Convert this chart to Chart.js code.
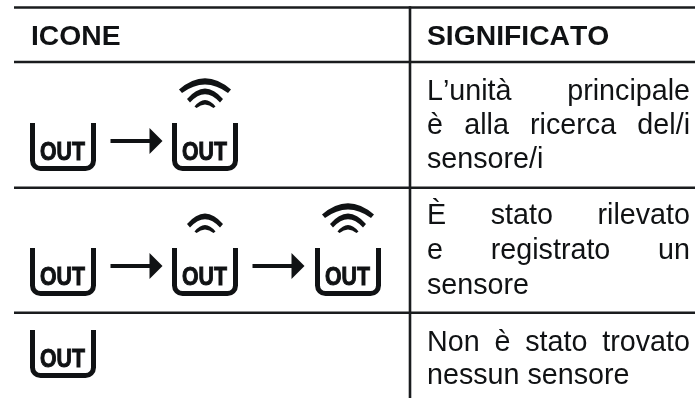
<!DOCTYPE html>
<html>
<head>
<meta charset="utf-8">
<style>
  html, body { margin: 0; padding: 0; background: #fff; overflow: hidden; }
  canvas { display: block; }
</style>
<script src="https://cdn.jsdelivr.net/npm/chart.js@4/dist/chart.umd.js"></script>
</head>
<body>
<canvas id="table" width="695" height="398"></canvas>
<script>
// table content
const headers = ['ICONE', 'SIGNIFICATO'];
const meanings = [
  ['L’unità principale', 'è alla ricerca del/i', 'sensore/i'],
  ['È stato rilevato', 'e registrato un', 'sensore'],
  ['Non è stato trovato', 'nessun sensore'],
];
// wifi arcs above each OUT icon, one list per row (0 = no arcs)
const signalLevels = [
  [0, 3],
  [0, 2, 3],
  [0],
];
const iconLabel = 'OUT';

// table rules, in picture units
const rowEdges = [7.5, 62, 187.7, 312.7];
const columnEdges = [410];

// layout
const tableLeft = 14;
const tableRight = 695;
const tableBottom = 398;
const iconColumnX = [30, 172, 315];
const iconTops = [123, 248, 330];
const headerBaseline = 45;
const headerX = [31, 427];
const textLeft = 427;
const textRight = 690;
const meaningBaselines = [
  [100, 134, 168],
  [224, 259, 294],
  [351, 384],
];
const ink = '#101214';

const ruleSets = [
  ...rowEdges.map((y) => ({ data: [{ x: tableLeft, y }, { x: tableRight, y }] })),
  ...columnEdges.map((x) => ({ data: [{ x, y: rowEdges[0] - 1.2 }, { x, y: tableBottom }] })),
].map((set) => ({
  ...set,
  showLine: true,
  borderColor: '#1a1c1e',
  borderWidth: 2.6,
  pointRadius: 0,
}));

// arcs are drawn as thin lenses with pointed ends, offsets are from the icon centre / top
const arcShapes = [
  { half: 10.5, tip: -16.5, outer: -29.5, innerTip: -15, inner: -22, inset: 2 },
  { half: 18, tip: -24, outer: -45, innerTip: -20.5, inner: -37, inset: 3 },
  { half: 26, tip: -33.5, outer: -56, innerTip: -30, inner: -47, inset: 3 },
];

const drawBracket = (ctx, left, top) => {
  const w = 66, h = 48, lw = 5, r = 8;
  ctx.lineWidth = lw;
  ctx.strokeStyle = ink;
  ctx.beginPath();
  ctx.moveTo(left + lw / 2, top);
  ctx.arcTo(left + lw / 2, top + h - lw / 2, left + w / 2, top + h - lw / 2, r);
  ctx.arcTo(left + w - lw / 2, top + h - lw / 2, left + w - lw / 2, top, r);
  ctx.lineTo(left + w - lw / 2, top);
  ctx.stroke();

  // no narrow bold face installed, so squeeze the regular bold one
  ctx.save();
  ctx.translate(left + w / 2 - 0.5, top + 37);
  ctx.scale(0.85, 1);
  ctx.fillStyle = ink;
  ctx.strokeStyle = ink;
  ctx.lineWidth = 1;
  ctx.font = 'bold 25px "Liberation Sans"';
  ctx.textAlign = 'center';
  ctx.fillText(iconLabel, 0, 0);
  ctx.strokeText(iconLabel, 0, 0);
  ctx.restore();
};

const drawWifi = (ctx, cx, top, level) => {
  ctx.fillStyle = ink;
  for (let i = 0; i < level; i++) {
    const a = arcShapes[i];
    ctx.beginPath();
    ctx.moveTo(cx - a.half, top + a.tip);
    ctx.quadraticCurveTo(cx, top + a.outer, cx + a.half, top + a.tip);
    ctx.lineTo(cx + a.half - a.inset, top + a.innerTip);
    ctx.quadraticCurveTo(cx, top + a.inner, cx - a.half + a.inset, top + a.innerTip);
    ctx.closePath();
    ctx.fill();
  }
};

const drawArrow = (ctx, left, y) => {
  ctx.fillStyle = ink;
  ctx.fillRect(left, y - 2, 40, 4);
  ctx.beginPath();
  ctx.moveTo(left + 39, y - 13);
  ctx.lineTo(left + 52, y);
  ctx.lineTo(left + 39, y + 13);
  ctx.closePath();
  ctx.fill();
};

// text and icons go on top of the rules, placed through the scales
const tablePlugin = {
  id: 'tablePlugin',
  afterDatasetsDraw(chart) {
    const { ctx, scales } = chart;
    const px = (v) => scales.x.getPixelForValue(v);
    const py = (v) => scales.y.getPixelForValue(v);
    ctx.save();
    ctx.textBaseline = 'alphabetic';
    ctx.fontKerning = 'none';

    ctx.fillStyle = ink;
    ctx.font = 'bold 28.3px "Liberation Sans"';
    headers.forEach((h, i) => ctx.fillText(h, px(headerX[i]), py(headerBaseline)));

    ctx.font = '28.7px "Liberation Sans"';
    meanings.forEach((lines, r) => {
      lines.forEach((line, i) => {
        const justify = i < lines.length - 1;
        const gaps = line.split(' ').length - 1;
        ctx.wordSpacing = '0px';
        const extra = justify ? (px(textRight) - px(textLeft) - ctx.measureText(line).width) / gaps : 0;
        ctx.wordSpacing = extra + 'px';
        ctx.fillText(line, px(textLeft), py(meaningBaselines[r][i]));
      });
    });
    ctx.wordSpacing = '0px';

    signalLevels.forEach((levels, r) => {
      const top = py(iconTops[r]);
      levels.forEach((level, i) => {
        const left = px(iconColumnX[i]);
        drawBracket(ctx, left, top);
        drawWifi(ctx, left + 33, top, level);
        if (i < levels.length - 1) drawArrow(ctx, left + 80.5, top + 18);
      });
    });
    ctx.restore();
  },
};

new Chart(document.getElementById('table'), {
  type: 'scatter',
  data: { datasets: ruleSets },
  plugins: [tablePlugin],
  options: {
    responsive: false,
    animation: false,
    layout: { padding: 0 },
    plugins: { legend: { display: false }, tooltip: { enabled: false } },
    scales: {
      x: { type: 'linear', min: 0, max: 695, display: false },
      y: { type: 'linear', min: 0, max: 398, reverse: true, display: false },
    },
  },
});
</script>
</body>
</html>
